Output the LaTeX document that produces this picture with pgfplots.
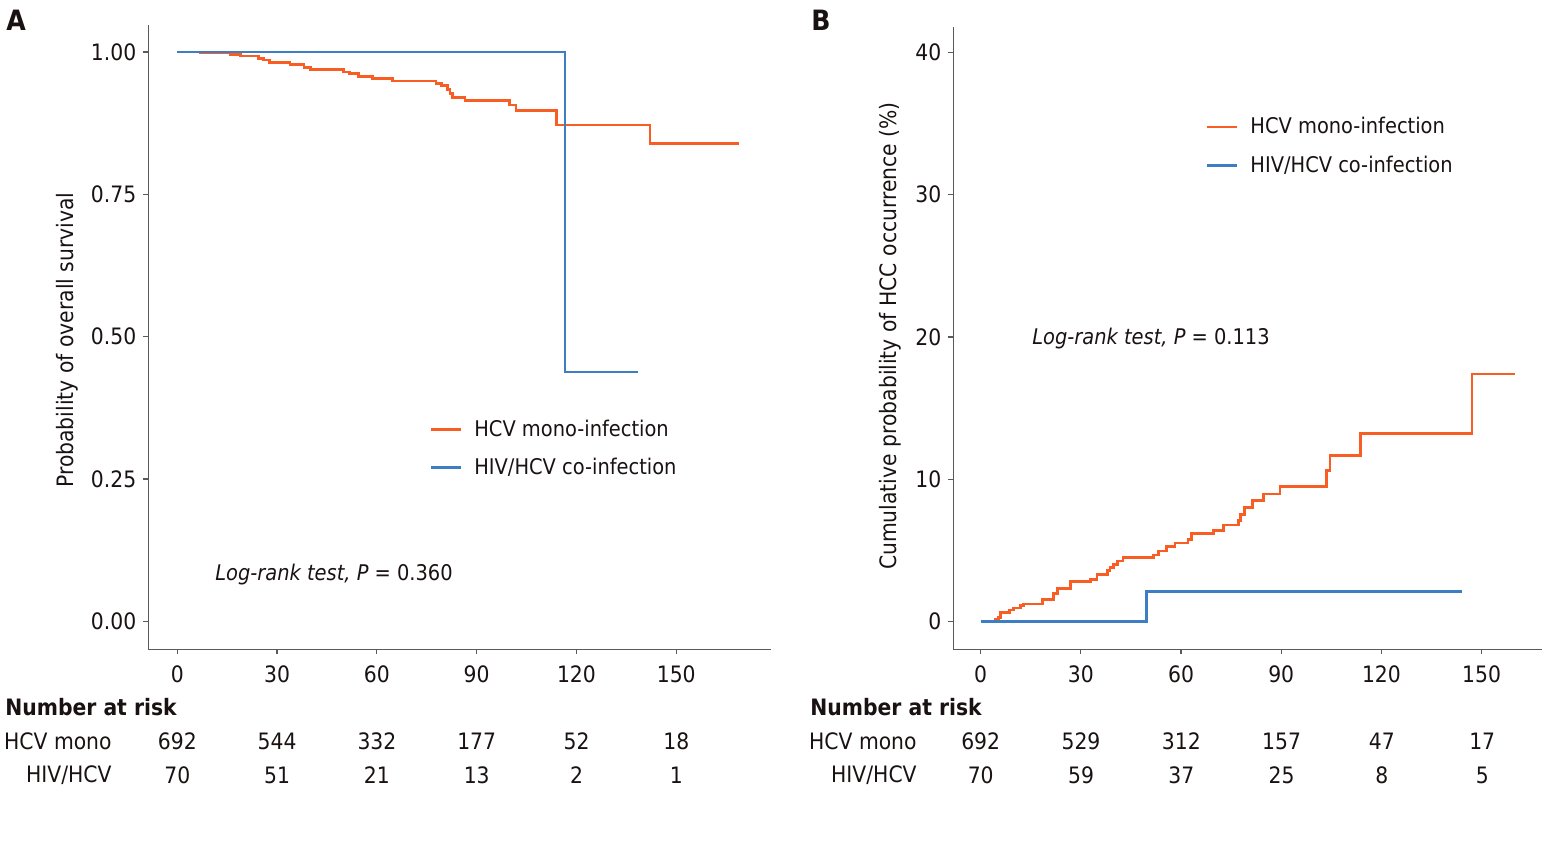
\documentclass[border=0pt]{standalone}
\usepackage{pgfplots}
\pgfplotsset{compat=1.18}
\usepackage{fontspec}
\setmainfont{DejaVu Sans Condensed}
\definecolor{hcv}{HTML}{F85E24}
\definecolor{hiv}{HTML}{3D7DC1}
\definecolor{axgray}{HTML}{5A5A5A}
\definecolor{txt}{HTML}{1A1212}
\newcommand{\fs}{\fontsize{11.3}{13.5}\selectfont}
\newcommand{\fl}{\fontsize{10.8}{13}\selectfont}

\pgfplotsset{
  km/.style={
    scale only axis,
    axis x line=bottom, axis y line=left,
    axis line style={axgray, line width=0.6pt, -},
    tick style={axgray, line width=0.6pt},
    tick align=outside, major tick length=2.5pt,
    xtick={0,30,...,150},
    /pgf/number format/assume math mode=true,
    ticklabel style={font=\fs, text=txt},
    xticklabel style={yshift=-2pt},
    clip=false,
    legend cell align=left,
    legend style={draw=none, fill=none, font=\fl, text=txt, row sep=5.5pt, inner sep=0pt,
      /tikz/every odd column/.append style={column sep=4pt}},
    legend image code/.code={\draw[#1, line width=1.3pt] (0pt,0pt) -- (15pt,0pt);},
  },
  hcvline/.style={hcv, line width=1.4pt, const plot},
  hivline/.style={hiv, line width=1.2pt, const plot},
}

\begin{document}
\begin{tikzpicture}
\path[use as bounding box] (0,0) rectangle (775pt,-425pt);

% Panel A: overall survival
\begin{axis}[km,
  at={(74.15pt,-324.65pt)}, anchor=south west,
  width=311.2pt, height=312.15pt,
  xmin=-8.72, xmax=178.4, ymin=-0.049, ymax=1.0475,
  ytick={0,0.25,0.5,0.75,1},
  yticklabel style={/pgf/number format/fixed, /pgf/number format/fixed zerofill, /pgf/number format/precision=2},
  legend style={at={(0.4515,0.375)}, anchor=north west},
]
\addplot[hcvline] coordinates {
  (0,1.000) (7,0.999) (15.9,0.995) (18.9,0.993) (24.4,0.989) (25.9,0.986)
  (27.7,0.982) (33.9,0.978) (38.1,0.973) (40.1,0.969) (49.9,0.965) (51.7,0.962)
  (54.4,0.957) (58.7,0.953) (64.7,0.949) (77.8,0.945) (79.5,0.941) (81.3,0.934)
  (82,0.927) (82.8,0.920) (86.5,0.915) (99.8,0.907) (101.8,0.897) (114,0.872)
  (142.1,0.840) (169,0.840)
};
\addlegendentry{HCV mono-infection}
\addplot[hivline] coordinates {(0,1) (116.5,0.4376) (138.4,0.4376)};
\addlegendentry{HIV/HCV co-infection}
\end{axis}

% Panel B: cumulative HCC
\begin{axis}[km,
  at={(476.65pt,-324.65pt)}, anchor=south west,
  width=294.2pt, height=311.15pt,
  xmin=-8.2, xmax=168, ymin=-1.97, ymax=41.8,
  ytick={0,10,20,30,40},
  legend style={at={(0.4285,0.862)}, anchor=north west},
]
\addplot[hcvline] coordinates {
  (0,0) (4.5,0.16) (5.3,0.28) (5.9,0.64) (8.7,0.8) (9.8,0.94) (11.8,1.1)
  (12.9,1.22) (18.4,1.55) (21.8,1.93) (22.9,2.31) (27.0,2.78) (32.9,2.92)
  (34.8,3.27) (37.9,3.58) (38.7,3.81) (39.8,4.0) (40.9,4.24) (42.6,4.5)
  (51.8,4.66) (53.2,4.94) (55.7,5.27) (58.2,5.51) (62.1,5.75) (63.2,6.15)
  (69.8,6.36) (72.8,6.78) (77.3,7.11) (77.9,7.53) (79.0,8.03) (81.3,8.52)
  (84.6,8.95) (89.6,9.47) (103.6,10.6) (104.6,11.68) (113.8,13.23)
  (147.1,17.4) (160,17.4)
};
\addlegendentry{HCV mono-infection}
\addplot[hivline] coordinates {(0,0) (49.6,2.1) (144,2.1)};
\addlegendentry{HIV/HCV co-infection}
\end{axis}

% panel letters, axis titles, annotations
\begin{scope}[every node/.style={text=txt, font=\fs, inner sep=0pt}]
\node[font=\fontsize{14}{16}\selectfont\bfseries] at (16*0.5pt,-20*0.5pt) {A};
\node[font=\fontsize{14}{16}\selectfont\bfseries] at (821*0.5pt,-20*0.5pt) {B};
\node[rotate=90] at (67*0.5pt,-340*0.5pt) {Probability of overall survival};
\node[rotate=90] at (890*0.5pt,-336*0.5pt) {Cumulative probability of HCC occurrence (\%)};
\node[anchor=west, font=\fl] at (215*0.5pt,-575*0.5pt) {\textit{Log-rank test, P} = 0.360};
\node[anchor=west, font=\fl] at (1032*0.5pt,-339*0.5pt) {\textit{Log-rank test, P} = 0.113};

% number at risk, panel A
\node[anchor=west, font=\fs\bfseries] at (5*0.5pt,-707*0.5pt) {Number at risk};
\node[anchor=east] at (112*0.5pt,-741*0.5pt) {HCV mono};
\node[anchor=east] at (112*0.5pt,-775*0.5pt) {HIV/HCV};
\foreach \v [count=\i from 0] in {692,544,332,177,52,18}
  \node at ({(177.3+99.8*\i)*0.5pt},-741*0.5pt) {\v};
\foreach \v [count=\i from 0] in {70,51,21,13,2,1}
  \node at ({(177.3+99.8*\i)*0.5pt},-775*0.5pt) {\v};

% number at risk, panel B
\node[anchor=west, font=\fs\bfseries] at (810*0.5pt,-707*0.5pt) {Number at risk};
\node[anchor=east] at (917*0.5pt,-741*0.5pt) {HCV mono};
\node[anchor=east] at (917*0.5pt,-775*0.5pt) {HIV/HCV};
\foreach \v [count=\i from 0] in {692,529,312,157,47,17}
  \node at ({(980.7+100.3*\i)*0.5pt},-741*0.5pt) {\v};
\foreach \v [count=\i from 0] in {70,59,37,25,8,5}
  \node at ({(980.7+100.3*\i)*0.5pt},-775*0.5pt) {\v};
\end{scope}
\end{tikzpicture}
\end{document}
